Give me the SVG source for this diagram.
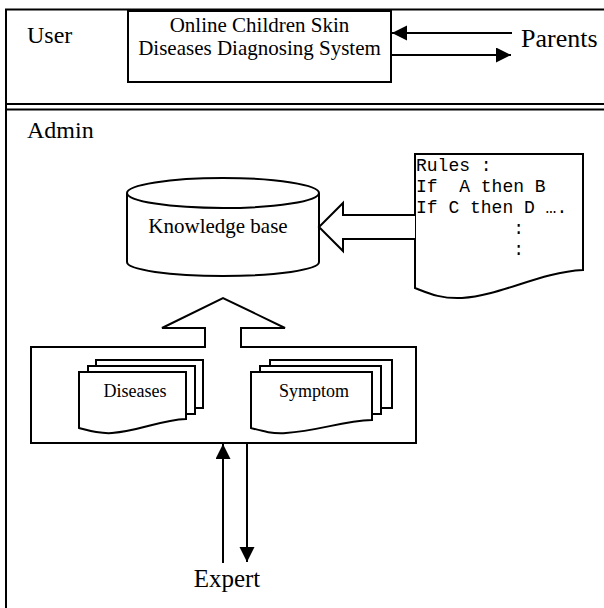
<svg xmlns="http://www.w3.org/2000/svg" width="604" height="608" viewBox="0 0 604 608">
  <style>
    .ln { fill: none; stroke: #000; stroke-width: 2; }
    .sh { fill: #fff; stroke: #000; stroke-width: 2; stroke-linejoin: miter; }
    .serif { font-family: "Liberation Serif", "Times New Roman", serif; fill: #000; }
    .mono { font-family: "Liberation Mono", "Courier New", monospace; font-size: 18px; fill: #000; }
    .mid { text-anchor: middle; }
  </style>
  <defs>
    <marker id="head" markerUnits="userSpaceOnUse" markerWidth="16" markerHeight="16" refX="15" refY="7.5" orient="auto">
      <path d="M0,0 L15,7.5 L0,15 Z" fill="#000"/>
    </marker>
  </defs>

  <rect width="604" height="608" fill="#fff"/>

  <!-- swimlane frame: outer border and double divider -->
  <g id="frame" class="ln">
    <path d="M604,9.5 L6,9.5 L6,608"/>
    <line x1="6" y1="104" x2="604" y2="104"/>
    <line x1="6" y1="109.5" x2="604" y2="109.5"/>
  </g>

  <g id="lane-user">
    <text class="serif" x="27" y="43" font-size="24">User</text>
  </g>

  <g id="system">
    <rect class="sh" x="128" y="11" width="263" height="71"/>
    <text class="serif mid" x="259.5" y="32" font-size="21">Online Children Skin</text>
    <text class="serif mid" x="259.5" y="55" font-size="21">Diseases Diagnosing System</text>
  </g>

  <g id="parents">
    <text class="serif" x="521" y="47" font-size="26">Parents</text>
  </g>

  <g id="lane-admin">
    <text class="serif" x="27" y="138" font-size="24">Admin</text>
  </g>

  <g id="knowledge-base">
    <path class="sh" d="M127,193 L127,262 A96,14 0 0 0 319,262 L319,193"/>
    <ellipse class="sh" cx="223" cy="193" rx="96" ry="15"/>
    <text class="serif mid" x="218" y="233" font-size="21">Knowledge base</text>
  </g>

  <g id="rules">
    <path class="sh" d="M415,154 L583,154 L583,270 C540,272 500,296 462,298 C440,299 428,293 415,288 Z"/>
    <text class="mono" x="416" y="171" xml:space="preserve">Rules :</text>
    <text class="mono" x="416" y="192" xml:space="preserve">If  A then B</text>
    <text class="mono" x="416" y="213" xml:space="preserve">If C then D ….</text>
    <text class="mono" x="416" y="234" xml:space="preserve">         :</text>
    <text class="mono" x="416" y="255" xml:space="preserve">         :</text>
  </g>

  <g id="expert-input">
    <rect class="sh" x="31" y="347" width="385" height="96"/>
    <g id="diseases">
      <rect class="sh" x="96" y="360" width="107" height="48"/>
      <rect class="sh" x="88" y="366" width="107" height="48"/>
      <path class="sh" d="M79,372 L186,372 L186,419 C160,420 140,431 112,433 C100,434 90,431 79,428 Z"/>
      <text class="serif mid" x="135" y="397" font-size="18">Diseases</text>
    </g>
    <g id="symptom">
      <rect class="sh" x="270" y="360" width="122" height="48"/>
      <rect class="sh" x="260" y="366" width="121" height="48"/>
      <path class="sh" d="M251,372 L372,372 L372,420 C342,421 318,431 286,433 C272,434 262,431 251,428 Z"/>
      <text class="serif mid" x="314" y="397" font-size="18">Symptom</text>
    </g>
  </g>

  <g id="expert">
    <text class="serif mid" x="227" y="587" font-size="25">Expert</text>
  </g>

  <g id="connectors">
    <!-- system <-> parents -->
    <line class="ln" x1="512" y1="33" x2="392" y2="33" marker-end="url(#head)"/>
    <line class="ln" x1="391" y1="55" x2="511" y2="55" marker-end="url(#head)"/>
    <!-- rules -> knowledge base (block arrow) -->
    <path class="sh" d="M415,215 L343,215 L343,203 L319,227 L343,251 L343,239 L415,239"/>
    <!-- input box -> knowledge base (block arrow) -->
    <path class="sh" d="M205,348 L205,328 L162,328 L223,298 L285,328 L241,328 L241,348"/>
    <!-- expert <-> input box -->
    <line class="ln" x1="223" y1="563" x2="223" y2="444" marker-end="url(#head)"/>
    <line class="ln" x1="247" y1="443" x2="247" y2="562" marker-end="url(#head)"/>
  </g>
</svg>
